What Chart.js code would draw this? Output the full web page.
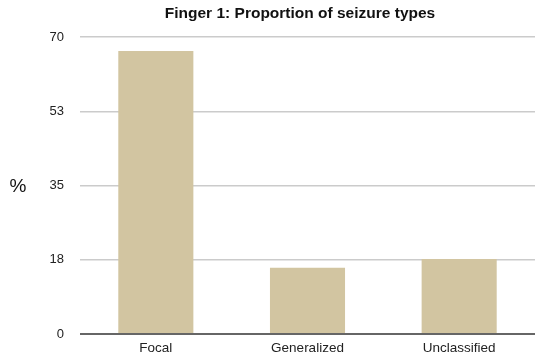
<!DOCTYPE html>
<html>
<head>
<meta charset="utf-8">
<script src="https://cdn.jsdelivr.net/npm/chart.js@4/dist/chart.umd.min.js"></script>
<style>
    html, body { margin: 0; padding: 0; background: #fff; }
    #wrap { width: 536px; height: 360px; position: relative; }
</style>
</head>
<body>
<div id="wrap"><canvas id="barChart"></canvas></div>
<script>
const categories = ['Focal', 'Generalized', 'Unclassified'];
const percentages = [66.7, 15.6, 17.7];
const yTickValues = [0, 17.5, 35, 52.5, 70];
const yTickLabels = ['0', '18', '35', '53', '70'];
const chartTitle = 'Finger 1: Proportion of seizure types';

const FONT = "'Liberation Sans', Arial, Helvetica, sans-serif";

// title (offset a bit right of canvas centre) and the unrotated "%" label
const extraText = {
    id: 'extraText',
    afterDraw(chart) {
        const { ctx, chartArea } = chart;
        ctx.save();
        ctx.fillStyle = '#111';
        ctx.textAlign = 'center';
        ctx.textBaseline = 'middle';
        ctx.font = 'bold 15.5px ' + FONT;
        ctx.fillText(chartTitle, 300, 14);
        ctx.font = '19px ' + FONT;
        ctx.fillText('%', 18, (chartArea.top + chartArea.bottom) / 2 + 1);
        ctx.restore();
    }
};

document.addEventListener('DOMContentLoaded', () => {
    const ctx = document.getElementById('barChart').getContext('2d');
    new Chart(ctx, {
        type: 'bar',
        data: {
            labels: categories,
            datasets: [{
                label: '%',
                data: percentages,
                backgroundColor: '#d2c5a1',
                borderWidth: 0,
                categoryPercentage: 1,
                barPercentage: 0.495
            }]
        },
        options: {
            responsive: true,
            maintainAspectRatio: false,
            animation: false,
            layout: { padding: { left: 0, right: 1, top: 37, bottom: 0 } },
            plugins: {
                legend: { display: false },
                tooltip: { enabled: false },
                title: { display: false }
            },
            scales: {
                x: {
                    afterFit: scale => { scale.height = 26; },
                    grid: { display: false, drawTicks: false },
                    border: { display: false },
                    ticks: {
                        color: '#222',
                        font: { family: FONT, size: 13.5 },
                        padding: 6
                    }
                },
                y: {
                    min: 0,
                    max: 70,
                    afterBuildTicks: scale => {
                        scale.ticks = yTickValues.map(v => ({ value: v }));
                    },
                    afterFit: scale => { scale.width = 80; },
                    border: { display: false },
                    grid: {
                        drawTicks: false,
                        color: c => c.tick && c.tick.value === 0 ? '#666' : '#cbcbcb',
                        lineWidth: c => c.tick && c.tick.value === 0 ? 2 : 1.5
                    },
                    ticks: {
                        color: '#222',
                        font: { family: FONT, size: 13 },
                        padding: 16,
                        callback: (value) => {
                            const i = yTickValues.indexOf(value);
                            return i >= 0 ? yTickLabels[i] : '';
                        }
                    }
                }
            }
        },
        plugins: [extraText]
    });
});
</script>
</body>
</html>
